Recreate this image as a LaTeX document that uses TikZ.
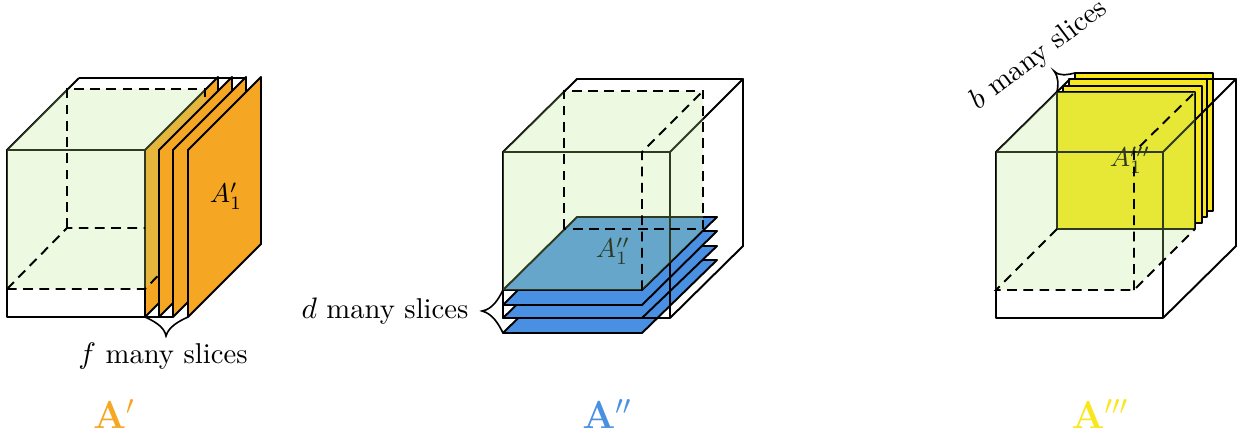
\documentclass[tikz,border=0pt]{standalone}
\usepackage{amsmath,amssymb}
\usepackage{xcolor}
\usepackage{tikz}
\definecolor{sliceorange}{HTML}{F5A623}
\definecolor{sliceblue}{HTML}{4A90E2}
\definecolor{sliceyellow}{HTML}{F8E71C}
\definecolor{boxgreen}{HTML}{B8E986}
\tikzset{
  edgeline/.style={draw=black, line width=0.72pt, line join=round},
  hiddenline/.style={draw=black, line width=0.72pt, dash pattern=on 3.6pt off 2.4pt},
  greenbox/.style={fill=boxgreen, fill opacity=0.25, draw=none},
  orangeslice/.style={edgeline, fill=sliceorange},
  blueslice/.style={edgeline, fill=sliceblue},
  yellowslice/.style={edgeline, fill=sliceyellow},
  slicebrace/.style={draw=black, line width=0.6pt},
  slicelabel/.style={font=\fontsize{10.6}{13}\selectfont},
  titlelabel/.style={font=\Large}
}

\begin{document}
\begin{tikzpicture}[x=0.013cm, y=-0.013cm]
  \useasboundingbox (0,0) rectangle (1239,436);

  % left cube
  \draw[edgeline] (79,78) -- (247,78);
  \draw[edgeline] (7,150) -- (79,78);
  \draw[edgeline] (7,150) rectangle (173,317);
  \draw[orangeslice] (145,150) -- (218,77) -- (218,244) -- (145,317) -- cycle;
  \fill[greenbox] (7,150) -- (67,89) -- (205,89) -- (205,228) -- (145,289) -- (7,289) -- cycle;
  \draw[hiddenline] (7,289) -- (145,289) -- (205,228);
  \draw[hiddenline] (7,289) -- (67,228) -- (145,228);
  \draw[hiddenline] (67,228) -- (67,89) -- (205,89) -- (205,228);
  \foreach \sx in {159,173,188}
    \draw[orangeslice] (\sx,150) -- ++(73,-73) -- ++(0,167) -- ++(-73,73) -- cycle;
  \node (labelA) at (226,196) {$A'_1$};
  \coordinate (braceAa) at (145,317);
  \coordinate (braceAtip) at (166,336);
  \coordinate (braceAb) at (188,317);
  \draw[slicebrace] (braceAa) .. controls (153.6,321) and (164.4,326.5) .. (braceAtip)
    .. controls (168.6,326.5) and (179.4,321) .. (braceAb);
  \node[slicelabel] (sliceA) at (163,356) {$f$ many slices};
  \node[titlelabel, text=sliceorange] (titleA) at (114,414) {$\mathbf{A}'$};

  % middle cube
  \foreach \sy/\by in {333/260,318/246,305/231,290/217}
    \draw[blueslice] (503,\sy) -- (642,\sy) -- (717,\by) -- (577,\by) -- cycle;
  \draw[edgeline] (503,152) rectangle (670,318);
  \draw[edgeline] (503,152) -- (577,79) -- (743,79) -- (670,152);
  \draw[edgeline] (743,79) -- (743,246) -- (670,318);
  \node (labelB) at (613,251) {$A''_1$};
  \fill[greenbox] (503,152) -- (564,91) -- (703,91) -- (703,229) -- (642,290) -- (503,290) -- cycle;
  \draw[hiddenline] (564,229) -- (564,91) -- (703,91) -- (703,229) -- cycle;
  \draw[hiddenline] (642,290) -- (642,152) -- (703,91);
  \coordinate (braceBa) at (503,290);
  \coordinate (braceBtip) at (482,311);
  \coordinate (braceBb) at (503,333);
  \draw[slicebrace] (braceBa) .. controls (498.8,298.6) and (492.5,309.4) .. (braceBtip)
    .. controls (492.5,313.6) and (498.8,324.4) .. (braceBb);
  \node[slicelabel] (sliceB) at (385,311) {$d$ many slices};
  \node[titlelabel, text=sliceblue] (titleB) at (607,414) {$\mathbf{A}''$};

  % right cube
  \foreach \sx/\sy/\ex/\ey in {1075/73/1213/211,1069/79/1207/217,1063/86/1202/223,1057/92/1195/229}
    \draw[yellowslice] (\sx,\sy) rectangle (\ex,\ey);
  \draw[edgeline] (996,152) rectangle (1163,318);
  \draw[edgeline] (996,152) -- (1070,79) -- (1236,79) -- (1163,152);
  \draw[edgeline] (1236,79) -- (1236,246) -- (1163,318);
  \node (labelC) at (1130,160) {$A'''_1$};
  \fill[greenbox] (996,152) -- (1057,92) -- (1195,92) -- (1195,229) -- (1134,290) -- (996,290) -- cycle;
  \draw[hiddenline] (1057,229) -- (996,290) -- (1134,290) -- (1195,229);
  \draw[hiddenline] (1134,290) -- (1134,152) -- (1195,92);
  \coordinate (braceCa) at (1057,92);
  \coordinate (braceCtip) at (1054,71);
  \coordinate (braceCb) at (1075,73);
  \draw[slicebrace] (braceCa) .. controls (1058.2,85.9) and (1059.1,77.7) .. (braceCtip)
    .. controls (1060,77) and (1068,74.5) .. (braceCb);
  \node[slicelabel, rotate=37] (sliceC) at (1039,55) {$b$ many slices};
  \node[titlelabel, text=sliceyellow] (titleC) at (1100,414) {$\mathbf{A}'''$};
\end{tikzpicture}
\end{document}
